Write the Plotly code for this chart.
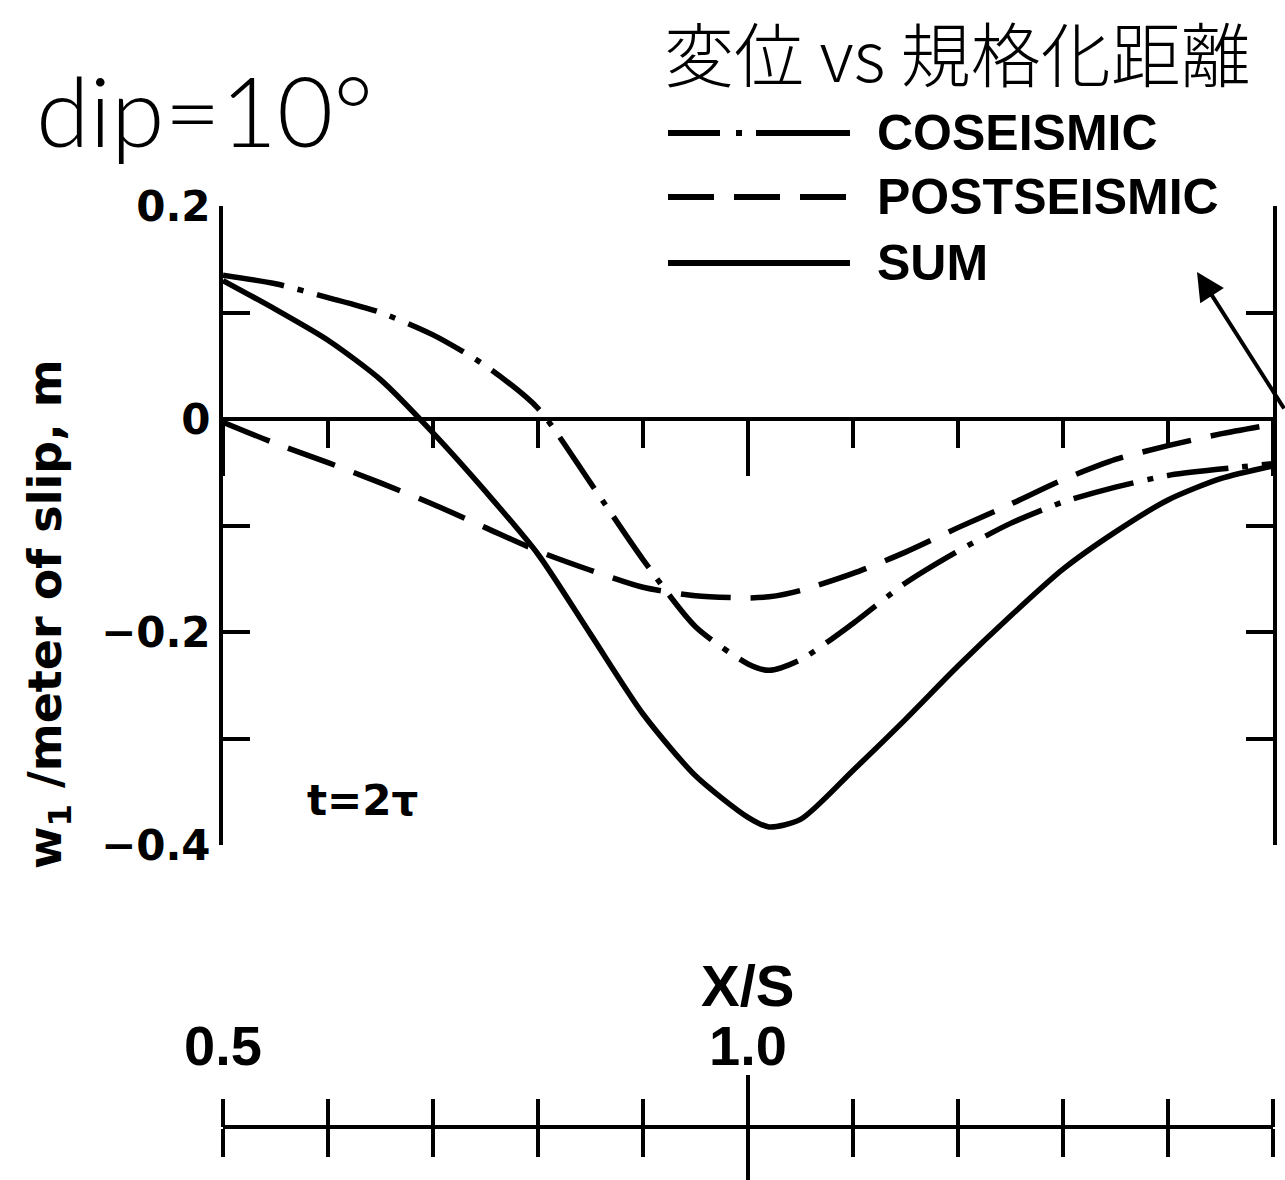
import plotly.graph_objects as go

# ---- data ----
x_s = [0.50, 0.55, 0.60, 0.65, 0.70, 0.75, 0.80, 0.85, 0.90, 0.95, 1.00, 1.02,
       1.05, 1.10, 1.15, 1.20, 1.25, 1.30, 1.35, 1.40, 1.45, 1.50]
coseismic = [0.135, 0.127, 0.114, 0.100, 0.079, 0.050, 0.010, -0.060, -0.132, -0.195, -0.230, -0.236,
             -0.226, -0.192, -0.154, -0.124, -0.098, -0.078, -0.064, -0.053, -0.047, -0.042]
postseismic = [-0.003, -0.023, -0.041, -0.060, -0.080, -0.102, -0.124, -0.142, -0.158, -0.166, -0.168, -0.167,
               -0.161, -0.145, -0.125, -0.102, -0.080, -0.057, -0.038, -0.025, -0.014, -0.005]
total = [0.130, 0.103, 0.074, 0.037, -0.013, -0.068, -0.127, -0.202, -0.277, -0.335, -0.374, -0.383,
         -0.376, -0.330, -0.282, -0.232, -0.185, -0.141, -0.106, -0.076, -0.056, -0.044]

y_tickvals = [0.2, 0.1, 0.0, -0.1, -0.2, -0.3, -0.4]
y_ticktext = ["0.2", " ", "0", " ", "\u22120.2", " ", "\u22120.4"]
x_tickvals = [0.5, 1.0, 1.5]
x_ticktext = ["0.5", "1.0", "1.5"]
x_long_tick = [1.0]
legend_names = ["COSEISMIC", "POSTSEISMIC", "SUM"]
title_text = "変位 vs 規格化距離"
dip_text = "dip=10°"
time_text = "t=2τ"
ytitle_text = "w<sub>1</sub> /meter of slip, m"
xtitle_text = "X/S"

# ---- layout geometry (pixels) ----
W, H = 1285, 1180
X0, X1 = 223, 1273
YT, YB = 206, 1127
Y_BOT_MAIN = 845


def px(xp):
    return (xp - X0) / (X1 - X0)


def py(yp):
    return (YB - yp) / (YB - YT)


dom_b = py(Y_BOT_MAIN)
zero_pos = dom_b + (0 - (-0.4)) / 0.6 * (1 - dom_b)

LW = 5.5
TW = 3.5
dash_co = "62px,14px,6px,14px"
dash_post = "50px,20px"
SM = 0.7

fig = go.Figure()
fig.add_trace(go.Scatter(x=x_s, y=coseismic, mode="lines", name=legend_names[0], xaxis="x", yaxis="y",
                         line=dict(color="black", width=LW, dash=dash_co, shape="spline", smoothing=SM)))
fig.add_trace(go.Scatter(x=x_s, y=postseismic, mode="lines", name=legend_names[1], xaxis="x2", yaxis="y",
                         line=dict(color="black", width=LW, dash=dash_post, shape="spline", smoothing=SM)))
fig.add_trace(go.Scatter(x=x_s, y=total, mode="lines", name=legend_names[2], xaxis="x3", yaxis="y",
                         line=dict(color="black", width=LW, shape="spline", smoothing=SM)))

tickfont_y = dict(family="DejaVu Sans", size=42, color="black", weight="bold")
tickfont_x = dict(family="Liberation Sans", size=56, color="black", weight="bold")
minor_28 = dict(tick0=0.5, dtick=0.1, ticks="outside", ticklen=28, tickwidth=TW, tickcolor="black")

fig.update_layout(
    width=W, height=H,
    margin=dict(l=X0, r=W - X1, t=YT, b=H - YB, pad=0, autoexpand=False),
    paper_bgcolor="white", plot_bgcolor="white",
    showlegend=False,
    # zero line with downward ticks; its labels are pushed down to the separate scale below
    xaxis=dict(range=[0.5, 1.5], anchor="free", position=zero_pos, side="bottom", automargin=False,
               showline=True, linewidth=4, linecolor="black", showgrid=False, zeroline=False,
               ticks="outside", tickvals=x_tickvals, ticktext=x_ticktext, ticklen=55, tickwidth=TW,
               tickcolor="black", tickfont=tickfont_x, ticklabelstandoff=522,
               minor=dict(tick0=0.5, dtick=0.1, ticks="outside", ticklen=27, tickwidth=TW, tickcolor="black")),
    # bottom scale: line + downward ticks
    xaxis2=dict(range=[0.5, 1.5], anchor="free", position=0, overlaying="x", side="bottom", automargin=False,
                showline=True, linewidth=4, linecolor="black", showgrid=False, zeroline=False,
                ticks="outside", tickvals=x_long_tick, ticklen=60, tickwidth=TW, tickcolor="black",
                showticklabels=False, minor=minor_28),
    # bottom scale: upward ticks
    xaxis3=dict(range=[0.5, 1.5], anchor="free", position=0, overlaying="x", side="top", automargin=False,
                showline=False, showgrid=False, zeroline=False,
                ticks="outside", tickvals=x_long_tick, ticklen=52, tickwidth=TW, tickcolor="black",
                showticklabels=False, minor=minor_28),
    yaxis=dict(range=[-0.4, 0.2], domain=[dom_b, 1], anchor="x", side="left", mirror="ticks",
               automargin=False,
               showline=True, linewidth=4, linecolor="black", showgrid=False, zeroline=False,
               ticks="inside", tickvals=y_tickvals, ticktext=y_ticktext, ticklen=27, tickwidth=TW,
               tickcolor="black", tickfont=tickfont_y),
)

# ---- legend drawn by hand (long line samples) ----
leg_rows = [133, 197, 263]
leg_dash = ["52px,16px,6px,14px,94px", "46px,20px", "solid"]
for yy, dsh in zip(leg_rows, leg_dash):
    fig.add_shape(type="line", xref="paper", yref="paper",
                  x0=px(668), x1=px(850), y0=py(yy), y1=py(yy),
                  line=dict(color="black", width=6, dash=dsh))

annots = []
for yy, name in zip(leg_rows, legend_names):
    annots.append(dict(text=name, x=px(875), y=py(yy), xref="paper", yref="paper",
                       xanchor="left", yanchor="middle", showarrow=False,
                       font=dict(family="Liberation Sans", size=50, color="black", weight="bold")))

annots += [
    dict(text=title_text, x=px(662), y=py(52), xref="paper", yref="paper",
         xanchor="left", yanchor="middle", showarrow=False,
         font=dict(family="Noto Sans CJK JP", size=70, color="black", weight=300)),
    dict(text=dip_text, x=px(34), y=py(110), xref="paper", yref="paper",
         xanchor="left", yanchor="middle", showarrow=False,
         font=dict(family="Lato", size=97, color="black", weight=300)),
    dict(text=time_text, x=px(305), y=py(800), xref="paper", yref="paper",
         xanchor="left", yanchor="middle", showarrow=False,
         font=dict(family="DejaVu Sans", size=42, color="black", weight="bold")),
    dict(text=ytitle_text, x=px(48), y=py(614), xref="paper", yref="paper",
         xanchor="center", yanchor="middle", showarrow=False, textangle=-90,
         font=dict(family="DejaVu Sans", size=46, color="black", weight="bold")),
    dict(text=xtitle_text, x=px(748), y=py(986), xref="paper", yref="paper",
         xanchor="center", yanchor="middle", showarrow=False,
         font=dict(family="Liberation Sans", size=58, color="black", weight="bold")),
    dict(text="", x=px(1197), y=py(272), xref="paper", yref="paper",
         showarrow=True, ax=92, ay=138, arrowhead=2, arrowsize=1.4, arrowwidth=4,
         arrowcolor="black", standoff=0),
]
fig.update_layout(annotations=annots)

fig.write_html("out.html")
